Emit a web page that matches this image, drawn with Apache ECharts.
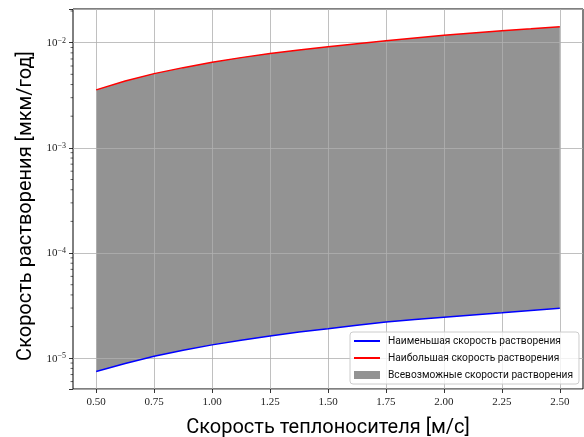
<!DOCTYPE html>
<html>
<head>
<meta charset="utf-8">
<script src="https://cdn.jsdelivr.net/npm/echarts@6/dist/echarts.min.js"></script>
<style>html,body{margin:0;padding:0;background:#fff;}#c{width:584px;height:437px;}</style>
</head>
<body>
<div id="c"></div>
<script>
// Coolant velocity, m/s
const velocity = [0.5, 0.625, 0.75, 0.875, 1.0, 1.125, 1.25, 1.375, 1.5, 1.625, 1.75, 1.875, 2.0, 2.125, 2.25, 2.375, 2.5];
// Minimum dissolution rate, µm/year
const minRate = [7.48e-6, 8.91e-6, 1.045e-5, 1.19e-5, 1.34e-5, 1.48e-5, 1.63e-5, 1.78e-5, 1.91e-5, 2.06e-5, 2.21e-5, 2.33e-5, 2.45e-5, 2.58e-5, 2.71e-5, 2.85e-5, 2.98e-5];
// Maximum dissolution rate, µm/year
const maxRate = [3.56e-3, 4.33e-3, 5.08e-3, 5.79e-3, 6.52e-3, 7.21e-3, 7.87e-3, 8.53e-3, 9.16e-3, 9.78e-3, 1.045e-2, 1.109e-2, 1.175e-2, 1.236e-2, 1.30e-2, 1.358e-2, 1.42e-2];
const xTicks = [0.5, 0.75, 1.0, 1.25, 1.5, 1.75, 2.0, 2.25, 2.5];
const yDecades = [-5, -4, -3, -2];
const minorMult = [2, 3, 4, 5, 6, 7, 8, 9];

const nameMin = 'Наименьшая скорость растворения';
const nameMax = 'Наибольшая скорость растворения';
const nameFill = 'Всевозможные скорости растворения';

const X_MIN = 0.4, X_MAX = 2.6, Y_MIN = 5.1e-6, Y_MAX = 2.09e-2;

const minorVals = [];
[-6, -5, -4, -3, -2].forEach(d => minorMult.forEach(m => {
  const v = m * Math.pow(10, d);
  if (v > Y_MIN && v < Y_MAX) minorVals.push(v);
}));

const lowerPairs = velocity.map((v, i) => [v, minRate[i]]);
const upperPairs = velocity.map((v, i) => [v, maxRate[i]]);

const hiddenSym = {color: 'rgba(0,0,0,0)', borderWidth: 0, opacity: 0};

const chart = echarts.init(document.getElementById('c'), null, {renderer: 'canvas'});
chart.setOption({
  animation: false,
  grid: {left: 73, right: 1, top: 9, bottom: 48, outerBoundsMode: 'none', containLabel: false,
         show: true, borderColor: '#000', borderWidth: 1, backgroundColor: 'transparent'},
  legend: {
    orient: 'vertical', left: 350, top: 332,
    itemWidth: 26, itemHeight: 8, itemGap: 5,
    padding: [3, 6, 3, 3],
    backgroundColor: 'rgba(255,255,255,0.8)', borderColor: '#cccccc', borderWidth: 1, borderRadius: 3,
    textStyle: {fontFamily: 'Roboto', fontSize: 10.2, lineHeight: 12, color: '#111', padding: [0, 0, 0, 3]},
    data: [
      {name: nameMin, itemStyle: hiddenSym},
      {name: nameMax, itemStyle: hiddenSym},
      {name: nameFill, icon: 'rect'}
    ]
  },
  xAxis: {
    type: 'value', min: X_MIN, max: X_MAX, z: 2,
    name: 'Скорость теплоносителя [м/с]', nameLocation: 'middle', nameGap: 29,
    nameTextStyle: {fontFamily: 'Roboto', fontSize: 20, color: '#000'},
    axisLine: {show: false},
    axisTick: {show: true, length: 4, customValues: xTicks, lineStyle: {color: '#000', width: 0.8}},
    axisLabel: {
      margin: 8, fontFamily: 'Liberation Serif', fontSize: 11, color: '#222',
      customValues: xTicks,
      formatter: v => Number(v).toFixed(2)
    },
    splitLine: {show: true, lineStyle: {color: '#b0b0b0', width: 0.8}}
  },
  yAxis: {
    type: 'log', logBase: 10, min: Y_MIN, max: Y_MAX, z: 2,
    name: 'Скорость растворения [мкм/год]', nameLocation: 'middle', nameGap: 36,
    nameTextStyle: {fontFamily: 'Roboto', fontSize: 20, color: '#000', padding: [0, 14, 0, 0]},
    axisLine: {show: false},
    axisTick: {show: true, length: 4, lineStyle: {color: '#000', width: 0.8}},
    axisLabel: {
      margin: 7, color: '#222',
      formatter: v => {
        const e = Math.log10(v);
        const r = Math.round(e);
        if (Math.abs(e - r) > 1e-6 || yDecades.indexOf(r) < 0) return '';
        return '{b|10}{s|\u2212' + Math.abs(r) + '}';
      },
      rich: {
        b: {fontFamily: 'Liberation Serif', fontSize: 11, lineHeight: 12, verticalAlign: 'bottom', color: '#222'},
        s: {fontFamily: 'Liberation Serif', fontSize: 8, lineHeight: 8, verticalAlign: 'top', color: '#222'}
      }
    },
    splitLine: {show: true, lineStyle: {color: '#b0b0b0', width: 0.8}}
  },
  series: [
    {
      name: nameFill, type: 'custom', z: 1, silent: true,
      itemStyle: {color: '#939393'},
      data: [[velocity[0], minRate[0]]],
      clip: false,
      renderItem: (params, api) => {
        const pts = [];
        for (let i = 0; i < velocity.length; i++) pts.push(api.coord([velocity[i], maxRate[i]]));
        for (let i = velocity.length - 1; i >= 0; i--) pts.push(api.coord([velocity[i], minRate[i]]));
        return {type: 'polygon', shape: {points: pts}, style: {fill: '#939393'}};
      }
    },
    {
      name: nameMin, type: 'line', data: lowerPairs, z: 3,
      symbol: 'none', showSymbol: false,
      itemStyle: {color: '#0000ff'}, lineStyle: {color: '#0000ff', width: 1.5}
    },
    {
      name: nameMax, type: 'line', data: upperPairs, z: 3,
      symbol: 'none', showSymbol: false,
      itemStyle: {color: '#ff0000'}, lineStyle: {color: '#ff0000', width: 1.5}
    },
    {
      name: 'minorTicks', type: 'custom', z: 3, silent: true,
      data: minorVals.map(v => [X_MIN, v]),
      clip: false,
      renderItem: (params, api) => {
        const p = api.coord([api.value(0), api.value(1)]);
        return {type: 'line', shape: {x1: p[0] - 2.5, y1: p[1], x2: p[0], y2: p[1]}, style: {stroke: '#000', lineWidth: 0.6}};
      }
    }
  ]
});
</script>
</body>
</html>
